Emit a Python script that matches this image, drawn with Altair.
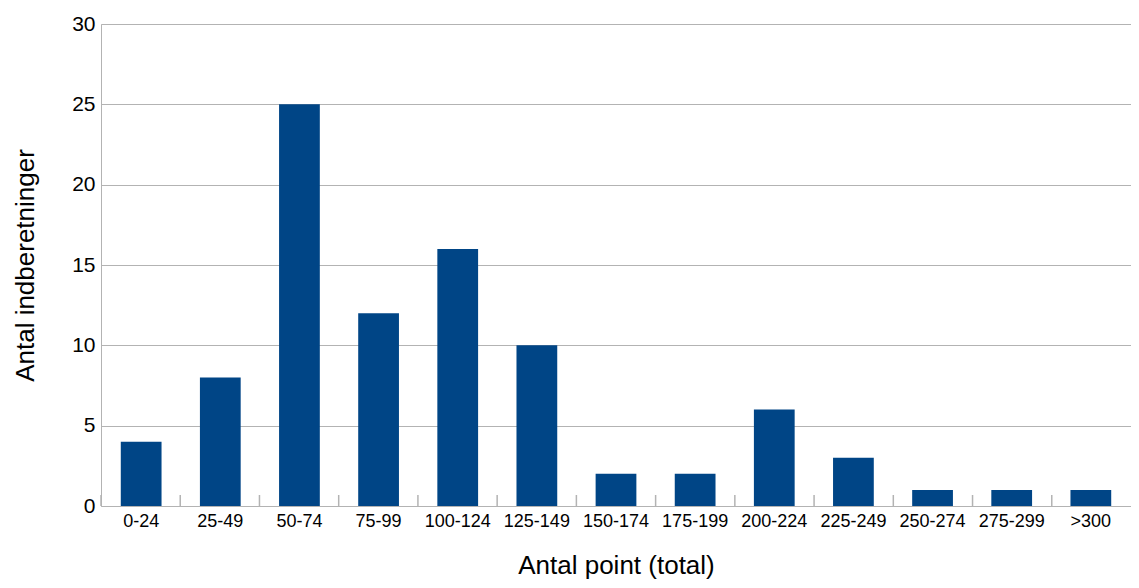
import altair as alt
import pandas as pd

categories = ["0-24", "25-49", "50-74", "75-99", "100-124", "125-149", "150-174",
              "175-199", "200-224", "225-249", "250-274", "275-299", ">300"]
counts = [4, 8, 25, 12, 16, 10, 2, 2, 6, 3, 1, 1, 1]

df = pd.DataFrame({"kategori": categories, "antal": counts})

W, H = 1030, 482

xscale = alt.Scale(domain=categories, paddingInner=0.485, paddingOuter=0.25)

bars = alt.Chart(df).mark_bar(color="#004586").encode(
    x=alt.X("kategori:N", sort=categories, scale=xscale,
            axis=alt.Axis(title="Antal point (total)", labelAngle=0, ticks=False,
                          labelFontSize=18, labelColor="#000", labelPadding=6,
                          titleFontSize=26, titleFontWeight="normal", titleColor="#000",
                          titlePadding=22, domainColor="#b3b3b3", grid=False,
                          labelFont="Liberation Sans", titleFont="Liberation Sans")),
    y=alt.Y("antal:Q", scale=alt.Scale(domain=[0, 30]),
            axis=alt.Axis(title="Antal indberetninger", values=[0, 5, 10, 15, 20, 25, 30],
                          labelFontSize=21, labelColor="#000", labelPadding=6,
                          tickSize=0, domainColor="#b3b3b3", gridColor="#b3b3b3",
                          titleFontSize=26, titleFontWeight="normal", titleColor="#000",
                          titlePadding=33, labelFont="Liberation Sans",
                          titleFont="Liberation Sans")),
)

ticks = alt.Chart(df).mark_rule(color="#b3b3b3", strokeWidth=1.5).encode(
    x=alt.X("kategori:N", sort=categories, bandPosition=0, axis=None,
            scale=alt.Scale(type="band", domain=categories, paddingInner=0, paddingOuter=0)),
    y=alt.value(H - 11),
    y2=alt.value(H),
)

chart = alt.layer(bars, ticks).resolve_scale(x="independent").properties(
    width=W, height=H,
    autosize=alt.AutoSizeParams(type="none"),
    padding={"left": 93, "top": 16, "right": 0, "bottom": 74},
).configure_view(stroke=None).configure(font="Liberation Sans")

chart.save("out.html", embed_options={"renderer": "svg", "actions": False})
